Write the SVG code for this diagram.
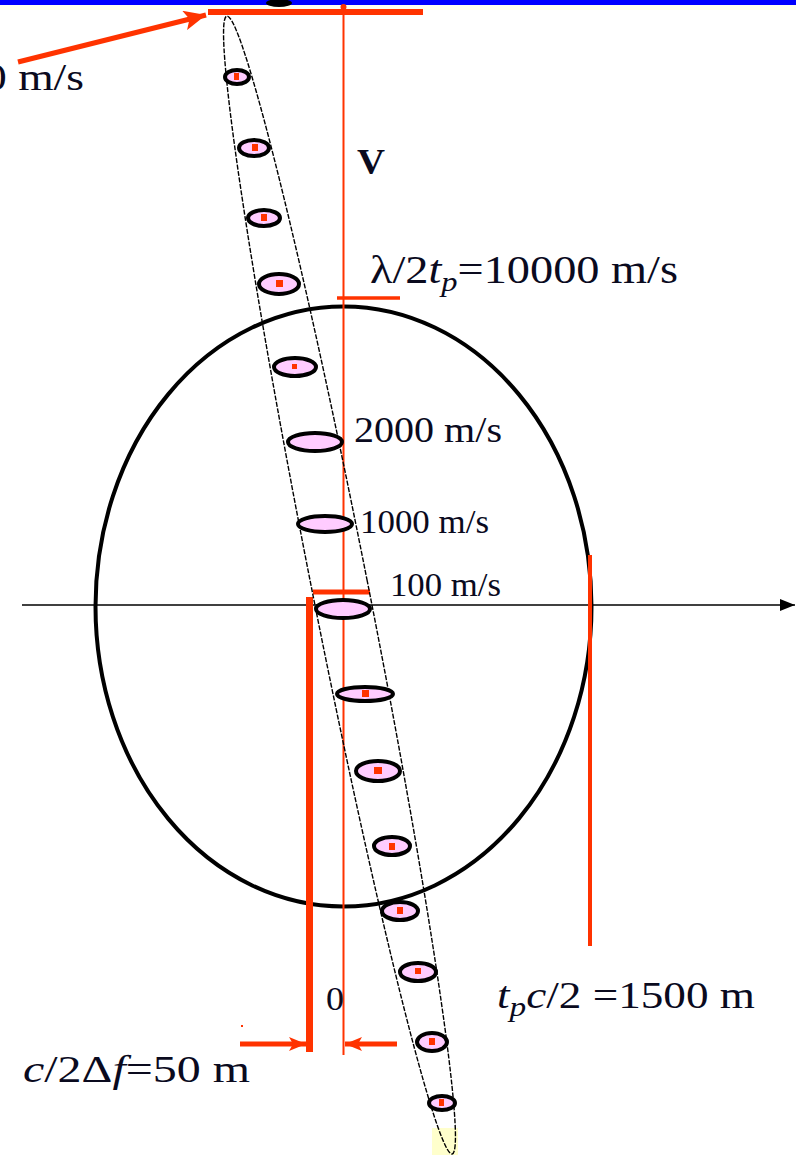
<svg xmlns="http://www.w3.org/2000/svg" width="796" height="1155" viewBox="0 0 796 1155">
<defs>
<style>
.t{font-family:"Liberation Serif","Times New Roman",serif;fill:#0a0a1e}
.i{font-style:italic}
.red{stroke:#ff3300;fill:none}
.blob{fill:#ffccff;stroke:#000;stroke-width:4}
.dot{fill:#ff3300}
</style>
<marker id="ahR" markerUnits="userSpaceOnUse" markerWidth="24" markerHeight="20" refX="22" refY="10" orient="auto">
<path d="M0,0 L22,10 L0,20 L5,10 Z" fill="#ff3300"/>
</marker>
<marker id="ahR2" markerUnits="userSpaceOnUse" markerWidth="18" markerHeight="14" refX="17" refY="7" orient="auto">
<path d="M0,0 L17,7 L0,14 L4,7 Z" fill="#ff3300"/>
</marker>
<marker id="ahK" markerUnits="userSpaceOnUse" markerWidth="16" markerHeight="12" refX="15" refY="6" orient="auto">
<path d="M0,0 L15,6 L0,12 Z" fill="#000"/>
</marker>
</defs>
<rect width="796" height="1155" fill="#fff"/>
<rect x="0" y="0" width="796" height="5" fill="#0000ff"/>
<rect x="0" y="5" width="796" height="5" fill="#fffff0"/>
<ellipse cx="279" cy="3" rx="13" ry="4" fill="#000"/>
<rect x="432" y="1128" width="26" height="27" fill="#ffffcc"/>

<g id="range-ellipse">
<ellipse cx="343.5" cy="606.5" rx="248" ry="300" fill="none" stroke="#000" stroke-width="4"/>
</g>

<g id="connectors">
<line x1="22" y1="605" x2="795" y2="605" stroke="#000" stroke-width="1.6" marker-end="url(#ahK)"/>
<line class="red" x1="343.5" y1="6" x2="343.5" y2="1055" stroke-width="2"/>
<circle cx="343.5" cy="7" r="3" fill="#ff3300"/>
<line class="red" x1="208" y1="12" x2="423" y2="12" stroke-width="6"/>
<line class="red" x1="18" y1="62" x2="206" y2="15" stroke-width="5" marker-end="url(#ahR)"/>
<line class="red" x1="337" y1="298" x2="400" y2="298" stroke-width="3.5"/>
<line class="red" x1="313" y1="592" x2="370" y2="592" stroke-width="5"/>
<line class="red" x1="309.5" y1="597" x2="309.5" y2="1052" stroke-width="7"/>
<line class="red" x1="590" y1="555" x2="590" y2="946" stroke-width="4"/>
<line class="red" x1="240" y1="1044" x2="306" y2="1044" stroke-width="5" marker-end="url(#ahR2)"/>
<line class="red" x1="397" y1="1044" x2="345" y2="1044" stroke-width="5" marker-end="url(#ahR2)"/>
<rect x="241" y="1025" width="2" height="2" fill="#ff3300"/>
</g>

<g id="ambiguity-ellipse">
<ellipse cx="339.5" cy="585" rx="28" ry="580" transform="rotate(-11.2 339.5 585)" fill="none" stroke="#000" stroke-width="1.4" stroke-dasharray="5 1.5"/>
</g>

<g id="cells">
<ellipse class="blob" cx="237" cy="77" rx="12" ry="7"/>
<ellipse class="blob" cx="254" cy="148" rx="15" ry="8"/>
<ellipse class="blob" cx="264" cy="218" rx="16" ry="8"/>
<ellipse class="blob" cx="279" cy="284" rx="20" ry="10"/>
<ellipse class="blob" cx="295" cy="367" rx="21" ry="9"/>
<ellipse class="blob" cx="315" cy="442" rx="27" ry="9"/>
<ellipse class="blob" cx="325" cy="524" rx="27" ry="8"/>
<ellipse class="blob" cx="343" cy="609" rx="27" ry="9"/>
<ellipse class="blob" cx="365" cy="694" rx="28" ry="7"/>
<ellipse class="blob" cx="378" cy="771" rx="22" ry="10"/>
<ellipse class="blob" cx="392" cy="846" rx="18" ry="9"/>
<ellipse class="blob" cx="400" cy="911" rx="18" ry="9"/>
<ellipse class="blob" cx="418" cy="972" rx="18" ry="9"/>
<ellipse class="blob" cx="432" cy="1042" rx="15" ry="9"/>
<ellipse class="blob" cx="442" cy="1103" rx="13" ry="7"/>
<rect class="dot" x="234" y="73" width="5" height="7"/>
<rect class="dot" x="252" y="144" width="6" height="7"/>
<rect class="dot" x="261" y="214" width="6" height="7"/>
<rect class="dot" x="276" y="280" width="7" height="7"/>
<rect class="dot" x="292" y="364" width="5" height="5"/>
<rect class="dot" x="362" y="690" width="7" height="7"/>
<rect class="dot" x="374" y="767" width="8" height="7"/>
<rect class="dot" x="389" y="843" width="6" height="7"/>
<rect class="dot" x="397" y="907" width="6" height="7"/>
<rect class="dot" x="415" y="968" width="6" height="6"/>
<rect class="dot" x="429" y="1038" width="6" height="7"/>
<rect class="dot" x="439" y="1099" width="5" height="7"/>
</g>

<g id="labels">
<text class="t" x="-16" y="90" font-size="38" textLength="100" lengthAdjust="spacingAndGlyphs">0 m/s</text>
<text class="t" x="357" y="174" font-size="36" font-weight="bold" textLength="28" lengthAdjust="spacingAndGlyphs">V</text>
<text class="t" x="370" y="283" font-size="40" textLength="308" lengthAdjust="spacingAndGlyphs">λ/2<tspan class="i">t</tspan><tspan class="i" font-size="28" dy="8">p</tspan><tspan dy="-8">=10000 m/s</tspan></text>
<text class="t" x="354" y="442" font-size="36" textLength="148" lengthAdjust="spacingAndGlyphs">2000 m/s</text>
<text class="t" x="360" y="533" font-size="33" textLength="129" lengthAdjust="spacingAndGlyphs">1000 m/s</text>
<text class="t" x="390" y="596" font-size="33" textLength="111" lengthAdjust="spacingAndGlyphs">100 m/s</text>
<text class="t" x="326" y="1010" font-size="33" textLength="18" lengthAdjust="spacingAndGlyphs">0</text>
<text class="t" x="497" y="1008" font-size="38" textLength="258" lengthAdjust="spacingAndGlyphs"><tspan class="i">t</tspan><tspan class="i" font-size="28" dy="8">p</tspan><tspan class="i" dy="-8">c</tspan>/2 =1500 m</text>
<text class="t" x="23" y="1082" font-size="37" textLength="227" lengthAdjust="spacingAndGlyphs"><tspan class="i">c</tspan>/2Δ<tspan class="i">f</tspan>=50 m</text>
</g>
</svg>
